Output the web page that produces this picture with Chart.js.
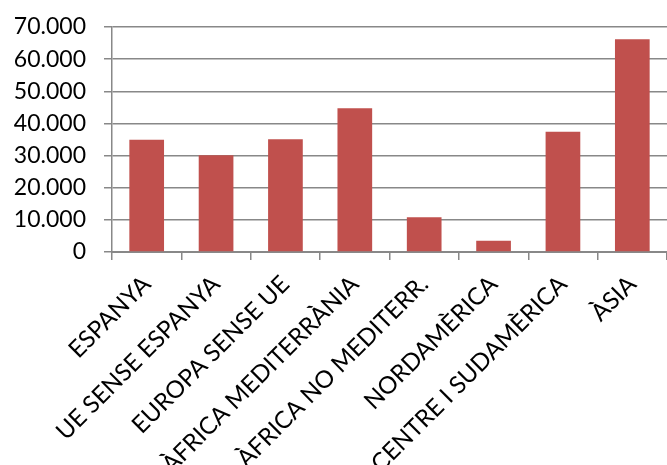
<!DOCTYPE html>
<html lang="ca">
<head>
  <meta charset="UTF-8">
  <title>Gràfic per zones</title>
  <script src="https://cdn.jsdelivr.net/npm/chart.js"></script>
  <style>
    html, body { margin: 0; padding: 0; background: #fff; }
    .chart-container { width: 667px; height: 465px; }
  </style>
</head>
<body>
  <div class="chart-container">
    <canvas id="myChart"></canvas>
  </div>

  <script>
    // Dades del gràfic
    const zones = ['ESPANYA', 'UE SENSE ESPANYA', 'EUROPA SENSE UE', 'ÀFRICA MEDITERRÀNIA',
      'ÀFRICA NO MEDITERR.', 'NORDAMÈRICA', 'CENTRE I SUDAMÈRICA', 'ÀSIA'];
    const valors = [34900, 30100, 35100, 44700, 10800, 3500, 37400, 66200];
    const yTicks = [0, 10000, 20000, 30000, 40000, 50000, 60000, 70000];

    // format amb punt de milers
    const fmt = (v) => String(v).replace(/\B(?=(\d{3})+(?!\d))/g, '.');

    const gris = '#888888';

    const ctx = document.getElementById('myChart').getContext('2d');
    const myChart = new Chart(ctx, {
      type: 'bar',
      data: {
        labels: zones,
        datasets: [{
          data: valors,
          backgroundColor: '#C0504D',
          borderWidth: 0,
          barPercentage: 0.5,
          categoryPercentage: 1.0
        }]
      },
      options: {
        responsive: true,
        maintainAspectRatio: false,
        animation: false,
        layout: { padding: { top: 0, right: 0, left: 0, bottom: 0 } },
        plugins: {
          legend: { display: false },
          tooltip: { enabled: false }
        },
        scales: {
          x: {
            grid: { offset: true, drawOnChartArea: false, tickLength: 8, color: gris, lineWidth: 1.5 },
            border: { color: gris, width: 2 },
            ticks: { autoSkip: false, maxRotation: 45, minRotation: 45, color: '#000',
              font: { family: 'Lato', size: 24 }, padding: 10 },
            afterFit: (scale) => { scale.height = 213; }
          },
          y: {
            min: yTicks[0],
            max: yTicks[yTicks.length - 1],
            afterBuildTicks: (scale) => { scale.ticks = yTicks.map(v => ({ value: v })); },
            grid: { color: gris, lineWidth: 1.5, tickLength: 8 },
            border: { color: gris, width: 1.5 },
            ticks: { color: '#000', font: { family: 'Lato', size: 23 }, padding: 18, callback: (v) => fmt(v) },
            afterFit: (scale) => { scale.width = 112; scale.paddingTop = 27; }
          }
        }
      }
    });
  </script>
</body>
</html>
